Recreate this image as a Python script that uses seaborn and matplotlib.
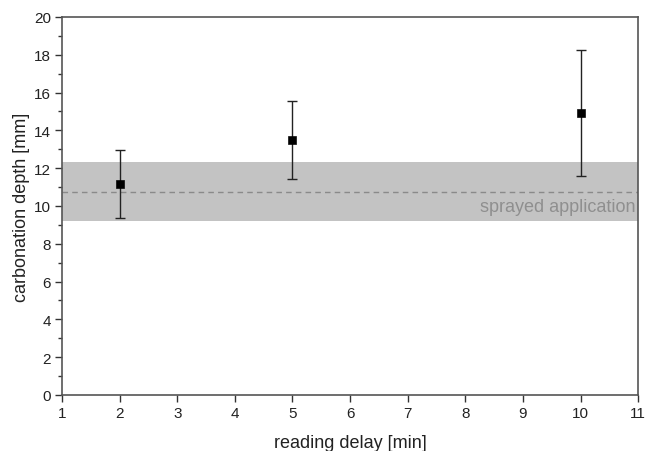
import matplotlib
matplotlib.use("Agg")
import matplotlib.pyplot as plt
import seaborn as sns
import pandas as pd
from matplotlib.ticker import MultipleLocator

# data
delay = [2, 5, 10]
depth = [11.15, 13.5, 14.9]
err_low = [9.35, 11.45, 11.6]
err_high = [12.95, 15.55, 18.25]
band_low, band_high, band_mean = 9.2, 12.33, 10.72
band_label = "sprayed application"

sns.set_theme(style="white")
plt.rcParams['font.family'] = ['Liberation Sans', 'DejaVu Sans']

df = pd.DataFrame({"delay": delay, "depth": depth})

fig = plt.figure(figsize=(6.54, 4.52), dpi=100)
ax = fig.add_axes([0.0948, 0.1239, 0.881, 0.8363])

ax.axhspan(band_low, band_high, color="#c3c3c3", lw=0, zorder=0)
ax.axhline(band_mean, color="#8a8a8a", ls=(0, (4, 3)), lw=1, zorder=1)
ax.text(10.95, 9.98, band_label, ha="right", va="center", color="#8f8f8f", fontsize=13)

yerr = [[d - l for d, l in zip(depth, err_low)], [h - d for d, h in zip(depth, err_high)]]
ax.errorbar(delay, depth, yerr=yerr, fmt="none", ecolor="#222222", elinewidth=1, capsize=3.5, capthick=1, zorder=2)
sns.scatterplot(data=df, x="delay", y="depth", marker="s", s=32, color="black", edgecolor="black", ax=ax, zorder=3)

ax.set_xlim(1, 11)
ax.set_ylim(0, 20)
ax.xaxis.set_major_locator(MultipleLocator(1))
ax.yaxis.set_major_locator(MultipleLocator(2))
ax.yaxis.set_minor_locator(MultipleLocator(1))
ax.tick_params(axis="both", which="major", direction="out", length=5, width=1, color="#333333", labelsize=11, labelcolor="#222222", bottom=True, left=True, pad=3)
ax.tick_params(axis="y", which="minor", direction="out", length=3, width=1, color="#333333", left=True)
for s in ax.spines.values():
    s.set_color("#555555")
    s.set_linewidth(1.2)

ax.set_xlabel("reading delay [min]", fontsize=13, color="#222222", labelpad=10)
ax.set_ylabel("carbonation depth [mm]", fontsize=13, color="#222222", labelpad=3)

fig.savefig("out.png", dpi=100)
